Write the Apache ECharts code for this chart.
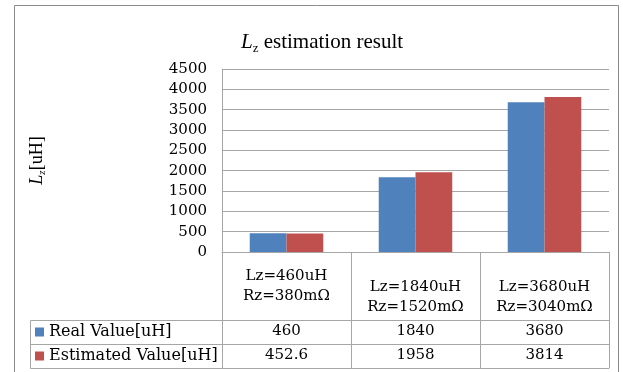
<!DOCTYPE html>
<html>
<head>
<meta charset="utf-8">
<script src="https://cdn.jsdelivr.net/npm/echarts@6/dist/echarts.min.js"></script>
<style>
html,body{margin:0;padding:0;background:#fff;}
#c{width:623px;height:372px;}
</style>
</head>
<body>
<div id="c"></div>
<script>
// ---- data ----
const categories = ['Lz=460uH\nRz=380mΩ', 'Lz=1840uH\nRz=1520mΩ', 'Lz=3680uH\nRz=3040mΩ'];
const seriesNames = ['Real Value[uH]', 'Estimated Value[uH]'];
const realValues = [460, 1840, 3680];
const estimatedValues = [452.6, 1958, 3814];
const yTicks = { min: 0, max: 4500, interval: 500 };

// ---- layout / style ----
const SERIF = 'DejaVu Serif';
const TIMES = 'Liberation Serif';
const LINE = '#a6a6a6';
const G = { left: 222, right: 14, top: 69, bottom: 120 };
const ROW1 = 68, ROW2 = 92, ROW3 = 116; // table line offsets below zero line

const chart = echarts.init(document.getElementById('c'), null, { renderer: 'canvas' });

function catLabel(v, i) {
  const parts = v.split('\n');
  const body = parts.map(p => '{a|' + p + '}').join('\n');
  return i === 0 ? body : '{sp| }\n' + body;
}

const zeroY = 372 - G.bottom;
const tableLeft = 30.5;
const legendText = { fontFamily: SERIF, fontSize: 16, color: '#000', lineHeight: 20 };

chart.setOption({
  animation: false,
  backgroundColor: '#fff',
  textStyle: { fontFamily: SERIF, color: '#000' },
  title: {
    text: '{i|L}{s|z}{n| estimation result}',
    left: 236, top: 25,
    textStyle: {
      fontWeight: 'normal',
      rich: {
        i: { fontFamily: TIMES, fontSize: 21, fontStyle: 'italic', fontWeight: 'normal', color: '#000', lineHeight: 25 },
        s: { fontFamily: TIMES, fontSize: 13, fontWeight: 'normal', color: '#000', verticalAlign: 'bottom', lineHeight: 12 },
        n: { fontFamily: TIMES, fontSize: 21, fontWeight: 'normal', color: '#000', lineHeight: 25 }
      }
    }
  },
  legend: {
    orient: 'vertical',
    left: 35, top: zeroY + ROW1 + 2,
    itemWidth: 9, itemHeight: 9, itemGap: 4,
    icon: 'rect',
    selectedMode: false,
    padding: 0,
    data: seriesNames.map(n => ({ name: n, textStyle: legendText })),
    textStyle: legendText
  },
  grid: { left: G.left, right: G.right, top: G.top, bottom: G.bottom, containLabel: false },
  xAxis: [
    {
      type: 'category', data: categories, position: 'bottom',
      axisLine: { show: true, lineStyle: { color: LINE, width: 1 } },
      axisTick: { show: true, interval: 0, alignWithLabel: false, length: ROW3, lineStyle: { color: LINE } },
      axisLabel: {
        interval: 0, margin: 14, formatter: catLabel,
        rich: {
          a: { fontFamily: SERIF, fontSize: 15, color: '#000', lineHeight: 20 },
          sp: { fontSize: 1, lineHeight: 11 }
        }
      }
    },
    {
      type: 'category', data: realValues.map(String), position: 'bottom', offset: ROW1,
      axisLine: { show: true, lineStyle: { color: LINE } },
      axisTick: { show: false },
      axisLabel: { interval: 0, margin: 4, fontFamily: SERIF, fontSize: 15, color: '#000' }
    },
    {
      type: 'category', data: estimatedValues.map(String), position: 'bottom', offset: ROW2,
      axisLine: { show: true, lineStyle: { color: LINE } },
      axisTick: { show: false },
      axisLabel: { interval: 0, margin: 4, fontFamily: SERIF, fontSize: 15, color: '#000' }
    },
    {
      type: 'category', data: categories, position: 'bottom', offset: ROW3,
      axisLine: { show: true, lineStyle: { color: LINE } },
      axisTick: { show: false },
      axisLabel: { show: false }
    }
  ],
  yAxis: {
    type: 'value', min: yTicks.min, max: yTicks.max, interval: yTicks.interval,
    name: '{i|L}{s|z}{n|[uH]}',
    nameLocation: 'middle', nameRotate: 90, nameGap: 174,
    nameTextStyle: {
      rich: {
        i: { fontFamily: TIMES, fontSize: 18, fontStyle: 'italic', color: '#000', lineHeight: 22 },
        s: { fontFamily: TIMES, fontSize: 11, fontStyle: 'italic', color: '#000', verticalAlign: 'bottom', lineHeight: 10 },
        n: { fontFamily: TIMES, fontSize: 18, color: '#000', lineHeight: 22 }
      }
    },
    axisLine: { show: true, lineStyle: { color: LINE } },
    axisTick: { show: false },
    axisLabel: { margin: 15, fontFamily: SERIF, fontSize: 15, color: '#000', formatter: v => String(v) },
    splitLine: { show: true, lineStyle: { color: LINE } }
  },
  series: [
    { name: seriesNames[0], type: 'bar', data: realValues, itemStyle: { color: '#4F81BD' }, barGap: 0, barCategoryGap: '43%' },
    { name: seriesNames[1], type: 'bar', data: estimatedValues, itemStyle: { color: '#C0504D' }, barGap: 0, barCategoryGap: '43%' }
  ],
  graphic: [
    { type: 'rect', silent: true, shape: { x: 14.5, y: 5.5, width: 604, height: 400 }, style: { fill: 'none', stroke: '#8c8c8c', lineWidth: 1 } },
    { type: 'line', silent: true, shape: { x1: tableLeft, y1: zeroY + ROW1 + 0.5, x2: G.left, y2: zeroY + ROW1 + 0.5 }, style: { stroke: LINE } },
    { type: 'line', silent: true, shape: { x1: tableLeft, y1: zeroY + ROW2 + 0.5, x2: G.left, y2: zeroY + ROW2 + 0.5 }, style: { stroke: LINE } },
    { type: 'line', silent: true, shape: { x1: tableLeft, y1: zeroY + ROW3 + 0.5, x2: G.left, y2: zeroY + ROW3 + 0.5 }, style: { stroke: LINE } },
    { type: 'line', silent: true, shape: { x1: tableLeft, y1: zeroY + ROW1 + 0.5, x2: tableLeft, y2: zeroY + ROW3 + 0.5 }, style: { stroke: LINE } }
  ]
});
</script>
</body>
</html>
